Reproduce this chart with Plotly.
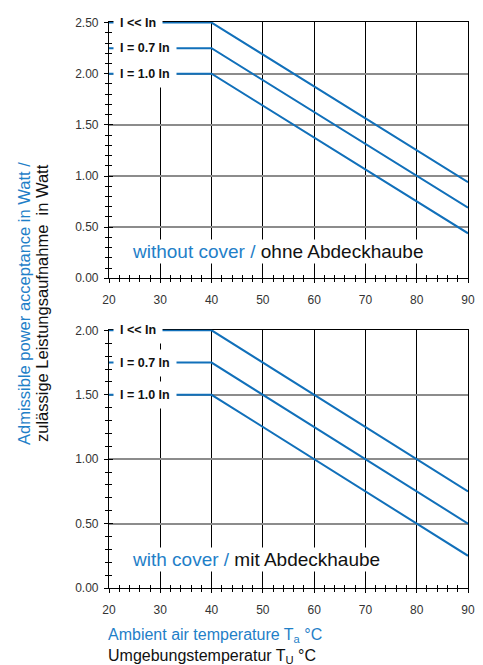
import plotly.graph_objects as go

# ---- data ----
temps = [20, 40, 90]
labels = ["I << In", "I = 0.7 In", "I = 1.0 In"]
top_vals = {
    "I << In": [2.50, 2.50, 0.94],
    "I = 0.7 In": [2.25, 2.25, 0.69],
    "I = 1.0 In": [2.00, 2.00, 0.44],
}
bot_vals = {
    "I << In": [2.00, 2.00, 0.75],
    "I = 0.7 In": [1.75, 1.75, 0.50],
    "I = 1.0 In": [1.50, 1.50, 0.25],
}
x_ticks = [20, 30, 40, 50, 60, 70, 80, 90]
top_yticks = [0.0, 0.5, 1.0, 1.5, 2.0, 2.5]
bot_yticks = [0.0, 0.5, 1.0, 1.5, 2.0]

BLUE_LINE = "#1170ba"
BLUE_TXT = "#1f80c8"
FONT = "Liberation Sans, Arial, sans-serif"

fig = go.Figure()

for name in labels:
    fig.add_trace(go.Scatter(x=temps, y=top_vals[name], mode="lines", xaxis="x", yaxis="y",
                             line=dict(color=BLUE_LINE, width=2), showlegend=False, hoverinfo="skip"))
    fig.add_trace(go.Scatter(x=temps, y=bot_vals[name], mode="lines", xaxis="x2", yaxis="y2",
                             line=dict(color=BLUE_LINE, width=2), showlegend=False, hoverinfo="skip"))

# dummy traces for overlay axes (inside ticks -> crossing tick look)
fig.add_trace(go.Scatter(x=[20], y=[0], xaxis="x3", yaxis="y3", mode="markers",
                         marker=dict(opacity=0), showlegend=False, hoverinfo="skip"))
fig.add_trace(go.Scatter(x=[20], y=[0], xaxis="x4", yaxis="y4", mode="markers",
                         marker=dict(opacity=0), showlegend=False, hoverinfo="skip"))

TOP_DOM = [0.5472, 1.0]
BOT_DOM = [0.0, 0.4563]

def xax(anchor, overlay=None):
    d = dict(range=[20, 90], tickvals=x_ticks, anchor=anchor, domain=[0, 1],
             tickfont=dict(size=12, color="#333", family=FONT), ticklabelstandoff=6,
             ticks="outside", ticklen=4, tickcolor="black", tickwidth=1,
             minor=dict(dtick=2, tick0=20, ticks="outside", ticklen=3, tickcolor="black", showgrid=False),
             showgrid=True, gridcolor="black", gridwidth=1.2,
             showline=True, linecolor="black", linewidth=1.2, mirror=True,
             zeroline=False, layer="below traces", fixedrange=True)
    if overlay:
        d.update(overlaying=overlay, showgrid=False, showticklabels=False, showline=False,
                 ticks="inside", mirror=False,
                 minor=dict(dtick=2, tick0=20, ticks="inside", ticklen=3, tickcolor="black", showgrid=False))
    return d

def yax(anchor, rng, tv, dom, overlay=None):
    d = dict(range=rng, tickvals=tv, tickformat=".2f", anchor=anchor, domain=dom,
             tickfont=dict(size=12, color="#333", family=FONT), ticklabelstandoff=3,
             ticks="outside", ticklen=4, tickcolor="black", tickwidth=1,
             minor=dict(dtick=0.1, tick0=0, ticks="outside", ticklen=3, tickcolor="black", showgrid=False),
             showgrid=True, gridcolor="#8c8c8c", gridwidth=2,
             showline=True, linecolor="black", linewidth=1.2, mirror=True,
             zeroline=False, layer="below traces", fixedrange=True)
    if overlay:
        d.update(overlaying=overlay, showgrid=False, showticklabels=False, showline=False,
                 ticks="inside", mirror=False,
                 minor=dict(dtick=0.1, tick0=0, ticks="inside", ticklen=3, tickcolor="black", showgrid=False))
    return d

annotations = []
for name in labels:
    for yref, vals in (("y", top_vals), ("y2", bot_vals)):
        annotations.append(dict(
            x=20.75, y=vals[name][0], xref="x" if yref == "y" else "x2", yref=yref,
            text="<b>" + name + "</b>", showarrow=False, xanchor="left", yanchor="middle",
            bgcolor="white", borderpad=6, font=dict(size=12.5, color="#111", family=FONT)))

annotations.append(dict(
    x=24.0, y=0.265, xref="x", yref="y", xanchor="left", yanchor="middle", showarrow=False,
    text=f"<span style='color:{BLUE_TXT}'>without cover /</span> ohne Abdeckhaube",
    bgcolor="white", borderpad=1, font=dict(size=19, color="#111", family=FONT)))
annotations.append(dict(
    x=24.0, y=0.225, xref="x2", yref="y2", xanchor="left", yanchor="middle", showarrow=False,
    text=f"<span style='color:{BLUE_TXT}'>with cover /</span> mit Abdeckhaube",
    bgcolor="white", borderpad=1, font=dict(size=19, color="#111", family=FONT)))

# y axis title (two lines, rotated)
annotations.append(dict(
    x=-0.2368, y=0.5035, xref="paper", yref="paper", xanchor="center", yanchor="middle",
    showarrow=False, textangle=-90,
    text="Admissible power acceptance in Watt /",
    font=dict(size=16.5, color=BLUE_TXT, family=FONT)))
annotations.append(dict(
    x=-0.1866, y=0.5035, xref="paper", yref="paper", xanchor="center", yanchor="middle",
    showarrow=False, textangle=-90,
    text="zulässige Leistungsaufnahme\u00a0 in Watt",
    font=dict(size=16.5, color="#111", family=FONT)))

# x axis titles
annotations.append(dict(
    x=-0.0084, y=-0.0839, xref="paper", yref="paper", xanchor="left", yanchor="middle",
    showarrow=False, text="Ambient air temperature T<sub>a</sub> °C",
    font=dict(size=16, color=BLUE_TXT, family=FONT)))
annotations.append(dict(
    x=-0.0084, y=-0.1206, xref="paper", yref="paper", xanchor="left", yanchor="middle",
    showarrow=False, text="Umgebungstemperatur T<sub>U</sub> °C",
    font=dict(size=16, color="#111", family=FONT)))

fig.update_layout(
    width=483, height=665,
    margin=dict(l=101, r=23, t=8, b=85),
    paper_bgcolor="white", plot_bgcolor="white",
    font=dict(family=FONT),
    xaxis=xax("y"),
    yaxis=yax("x", [0, 2.506], top_yticks, TOP_DOM),
    xaxis2=xax("y2"),
    yaxis2=yax("x2", [0, 2.005], bot_yticks, BOT_DOM),
    xaxis3=xax("y3", overlay="x"),
    yaxis3=yax("x3", [0, 2.506], top_yticks, TOP_DOM, overlay="y"),
    xaxis4=xax("y4", overlay="x2"),
    yaxis4=yax("x4", [0, 2.005], bot_yticks, BOT_DOM, overlay="y2"),
    annotations=annotations,
    showlegend=False,
)

fig.write_html("out.html")
